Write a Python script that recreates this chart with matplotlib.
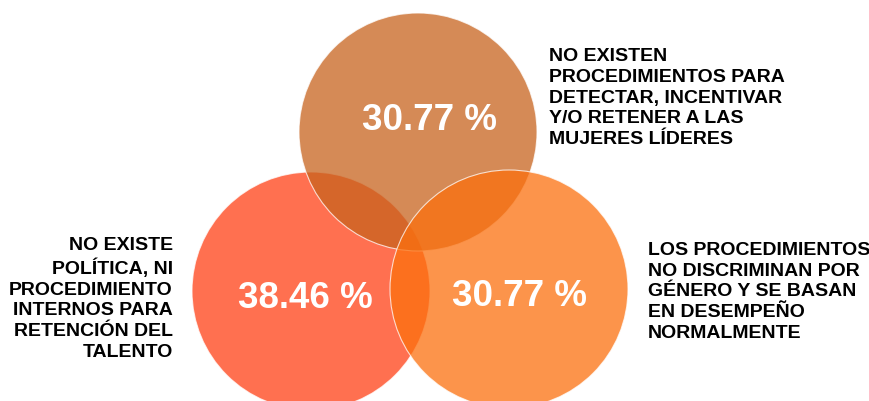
import matplotlib.pyplot as plt
from matplotlib.patches import Circle

plt.rcParams['font.family'] = ['Liberation Sans', 'DejaVu Sans']

# data
categorias = [
    "NO EXISTE\nPOLÍTICA, NI\nPROCEDIMIENTO\nINTERNOS PARA\nRETENCIÓN DEL\nTALENTO",
    "NO EXISTEN\nPROCEDIMIENTOS PARA\nDETECTAR, INCENTIVAR\nY/O RETENER A LAS\nMUJERES LÍDERES",
    "LOS PROCEDIMIENTOS\nNO DISCRIMINAN POR\nGÉNERO Y SE BASAN\nEN DESEMPEÑO\nNORMALMENTE",
]
porcentajes = [38.46, 30.77, 30.77]
colores = ["#ff4016", "#c7631e", "#fb700e"]

# layout (pixels) - left, top, right circles
centros = [(311, 291), (418, 132), (509, 289)]
radio = 119
pos_pct = [(305, 298), (430, 121), (520, 297)]
pos_lab = [(173, 299, "right"), (549, 98, "left"), (648, 292, "left")]

fig = plt.figure(figsize=(8.7, 4.01), dpi=100)
ax = fig.add_axes([0, 0, 1, 1])
ax.set_xlim(0, 870)
ax.set_ylim(401, 0)
ax.set_aspect("equal")
ax.axis("off")

for i in range(3):
    c = Circle(centros[i], radio, facecolor=colores[i], alpha=0.75,
               edgecolor="white", linewidth=0.8, zorder=i + 1)
    ax.add_patch(c)
    ax.text(pos_pct[i][0], pos_pct[i][1], f"{porcentajes[i]:.2f} %",
            color="white", fontsize=26.5, fontweight="bold",
            ha="center", va="center", zorder=10)
    x, y, al = pos_lab[i]
    ax.text(x, y, categorias[i], color="black", fontsize=14,
            fontweight="bold", ha=al, va="center", multialignment=al,
            linespacing=1.28, zorder=10)

fig.savefig("out.png", dpi=100)
